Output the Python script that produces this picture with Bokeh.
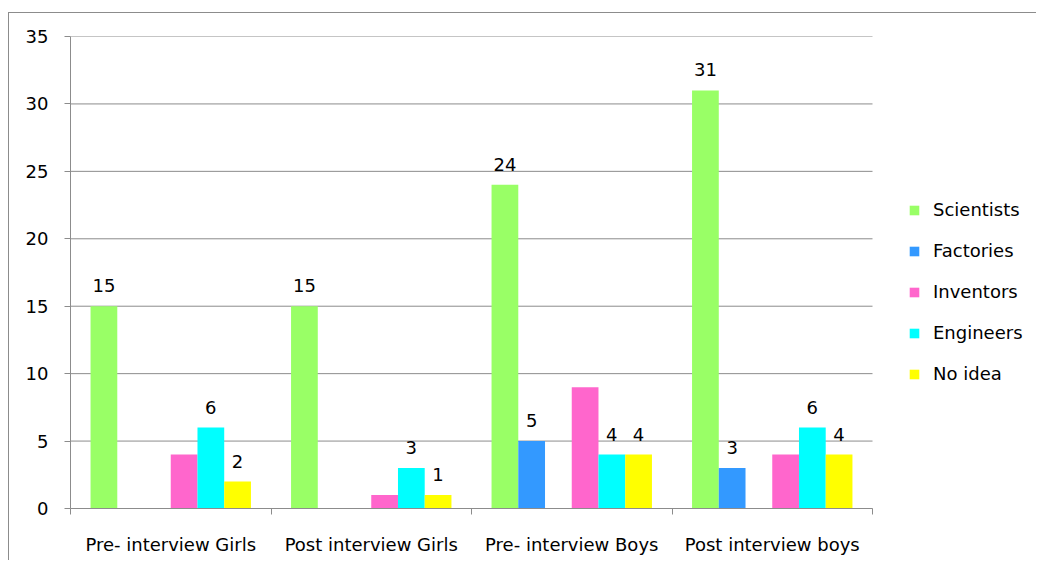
from bokeh.plotting import figure
from bokeh.models import FixedTicker, Legend, LegendItem, ColumnDataSource
from bokeh.core.properties import value
from bokeh.embed import file_html
from bokeh.resources import INLINE

categories = ["Pre- interview Girls", "Post interview Girls", "Pre- interview Boys", "Post interview boys"]
series_names = ["Scientists", "Factories", "Inventors", "Engineers", "No idea"]
scientists = [15, 15, 24, 31]
factories = [0, 0, 5, 3]
inventors = [4, 1, 9, 4]
engineers = [6, 3, 4, 6]
no_idea = [2, 1, 4, 4]
y_ticks = [0, 5, 10, 15, 20, 25, 30, 35]

series_values = [scientists, factories, inventors, engineers, no_idea]
colors = ["#99FF66", "#3399FF", "#FF66CC", "#00FFFF", "#FFFF00"]
slots = [0, 1, 3, 4, 5]          # one empty slot between Factories and Inventors
show_labels = [True, True, False, True, True]

FONT = "DejaVu Sans"
GRID = "#8c8c8c"
n = len(categories)

# frame extends to the right edge so the legend is not clipped; axis/grid limited to [0, n]
p = figure(width=1028, height=548, x_range=(0, n * 967 / 802), y_range=(0, 35),
           output_backend="svg", toolbar_location=None,
           min_border_left=61, min_border_right=0, min_border_top=23, min_border_bottom=53)
p.margin = (12, 0, 0, 8)
p.styles = {"border-left": "1px solid #8c8c8c", "border-top": "1px solid #8c8c8c"}
p.outline_line_color = None
p.xgrid.grid_line_color = None
p.ygrid.grid_line_color = None

# horizontal grid lines limited to the category span
p.segment(x0=[0] * len(y_ticks), x1=[n] * len(y_ticks), y0=y_ticks, y1=y_ticks,
          line_color=GRID, line_width=1)

# y axis
p.yaxis.ticker = FixedTicker(ticks=y_ticks)
p.yaxis.axis_line_color = GRID
p.yaxis.major_tick_line_color = GRID
p.yaxis.major_tick_out = 6
p.yaxis.major_tick_in = 0
p.yaxis.minor_tick_line_color = None
p.yaxis.major_label_standoff = 16
p.yaxis.major_label_text_font = FONT
p.yaxis.major_label_text_font_size = "18px"
p.yaxis.major_label_text_color = "#000000"

# x axis: labels at centres, tick marks at boundaries
centers = [i + 0.5 for i in range(n)]
p.xaxis.ticker = FixedTicker(ticks=centers, minor_ticks=list(range(n + 1)))
p.xaxis.bounds = (0, n)
p.xaxis.major_label_overrides = {c: lab for c, lab in zip(centers, categories)}
p.xaxis.axis_line_color = GRID
p.xaxis.major_tick_line_color = None
p.xaxis.major_tick_out = 0
p.xaxis.major_tick_in = 0
p.xaxis.minor_tick_line_color = GRID
p.xaxis.minor_tick_out = 6
p.xaxis.minor_tick_in = 0
p.xaxis.major_label_standoff = 19
p.xaxis.major_label_text_font = FONT
p.xaxis.major_label_text_font_size = "18px"
p.xaxis.major_label_text_color = "#000000"

w = 1 / 7.5
items = []
for name, vals, col, slot, lab in zip(series_names, series_values, colors, slots, show_labels):
    xs = [c - 0.4 + w * (slot + 0.5) for c in centers]
    src = ColumnDataSource(dict(x=xs, top=vals))
    r = p.vbar(x="x", top="top", bottom=0, width=w, source=src, fill_color=col, line_color=None)
    items.append(LegendItem(label=name, renderers=[r]))
    if lab:
        lx = [x for x, v in zip(xs, vals) if v > 0]
        lv = [v for v in vals if v > 0]
        lsrc = ColumnDataSource(dict(x=lx, y=lv, t=[str(v) for v in lv]))
        p.text(x="x", y="y", text="t", source=lsrc, text_align="center", text_baseline="bottom",
               y_offset=-14, text_font=value(FONT), text_font_size="18px", text_color="#000000")

legend = Legend(items=items, location=(838, 124), orientation="vertical")
legend.margin = 0
legend.padding = 0
legend.border_line_color = None
legend.background_fill_alpha = 0
legend.glyph_width = 12
legend.glyph_height = 12
legend.label_height = 20
legend.spacing = 20
legend.label_standoff = 13
legend.label_text_font = FONT
legend.label_text_font_size = "18px"
legend.label_text_color = "#000000"
p.add_layout(legend, "center")

open("out.html", "w").write(file_html(p, INLINE))
